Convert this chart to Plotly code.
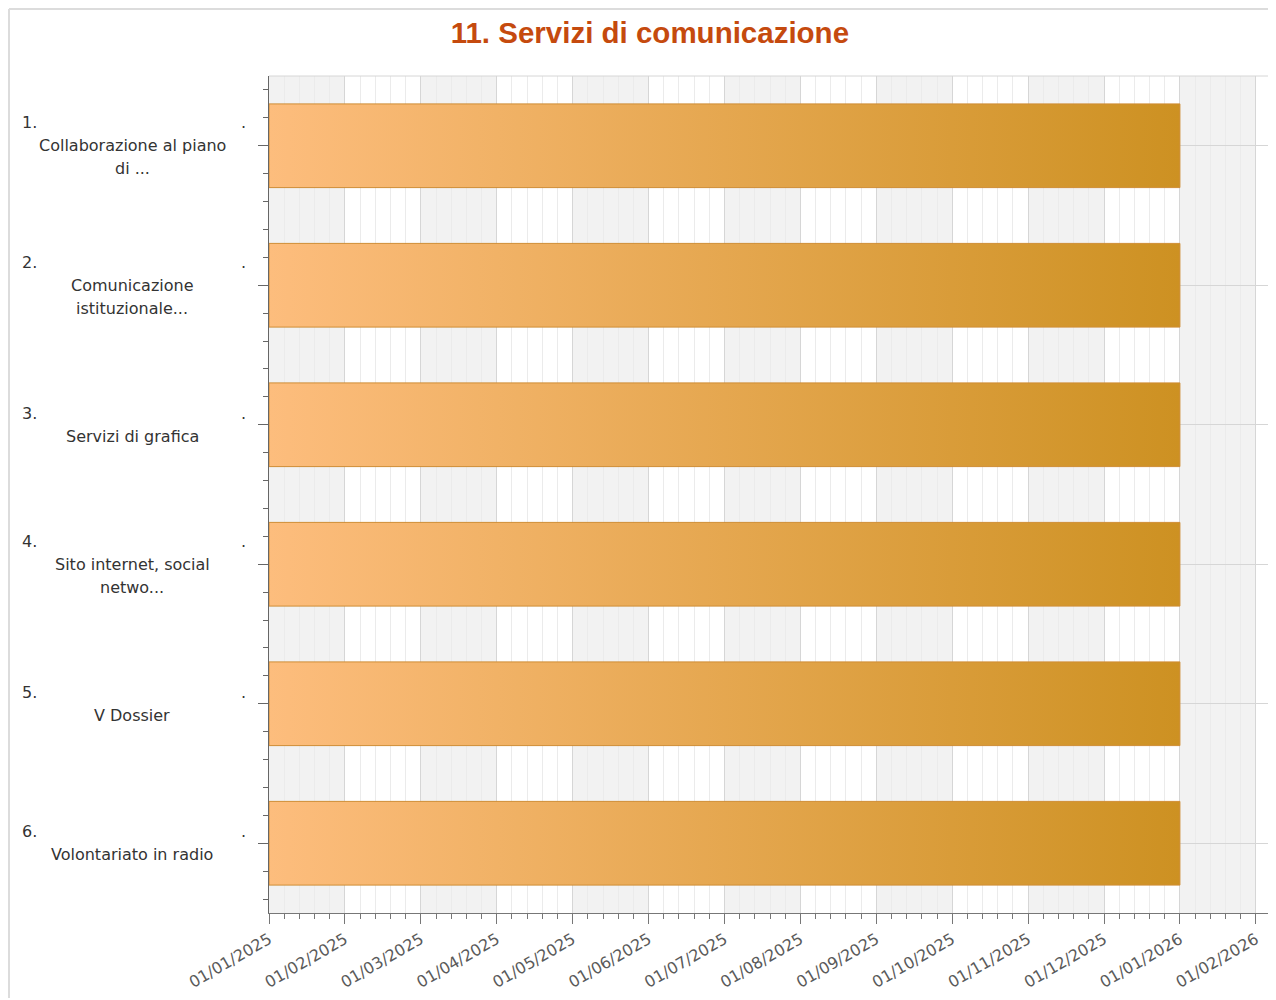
import calendar
import plotly.graph_objects as go

# ---------------- data ----------------
task_numbers = ["1.", "2.", "3.", "4.", "5.", "6."]
task_label_lines = [
    ["Collaborazione al piano", "di ..."],
    ["Comunicazione", "istituzionale..."],
    ["Servizi di grafica"],
    ["Sito internet, social", "netwo..."],
    ["V Dossier"],
    ["Volontariato in radio"],
]
task_starts = ["01/01/2025", "01/01/2025", "01/01/2025", "01/01/2025", "01/01/2025", "01/01/2025"]
task_ends = ["01/01/2026", "01/01/2026", "01/01/2026", "01/01/2026", "01/01/2026", "01/01/2026"]
x_tick_labels = [
    "01/01/2025", "01/02/2025", "01/03/2025", "01/04/2025", "01/05/2025", "01/06/2025",
    "01/07/2025", "01/08/2025", "01/09/2025", "01/10/2025", "01/11/2025", "01/12/2025",
    "01/01/2026", "01/02/2026",
]
title_text = "11. Servizi di comunicazione"

# ---------------- layout constants ----------------
FIG_W, FIG_H = 1266, 990
M_L, M_R, M_T, M_B = 261, 3, 68, 85
PLOT_W = FIG_W - M_L - M_R
PLOT_H = FIG_H - M_T - M_B
BASE_YEAR = 2025
X_MAX = 13.2
BAR_HALF = 0.3
LINE_H = 23
FONT = "DejaVu Sans"
LABEL_SIZE = 16


def month_pos(s):
    d, m, y = map(int, s.split("/"))
    return (y - BASE_YEAR) * 12 + (m - 1) + (d - 1) / calendar.monthrange(y, m)[1]


def px_x(px):
    return (px - M_L) / PLOT_W


fig = go.Figure()

# gradient bars
for i, (s, e) in enumerate(zip(task_starts, task_ends)):
    x0, x1 = month_pos(s), month_pos(e)
    fig.add_trace(go.Scatter(
        x=[x0, x1, x1, x0, x0],
        y=[i - BAR_HALF, i - BAR_HALF, i + BAR_HALF, i + BAR_HALF, i - BAR_HALF],
        mode="lines",
        fill="toself",
        fillgradient=dict(type="horizontal",
                          colorscale=[[0, "#fdbd7d"], [1, "#cd9122"]]),
        line=dict(color="#cf8d34", width=1),
        showlegend=False,
        hoverinfo="skip",
    ))

shapes = []
# alternating month bands
for k in range(len(x_tick_labels)):
    if k % 2 == 0:
        shapes.append(dict(type="rect", xref="x", yref="paper",
                           x0=k, x1=min(k + 1, X_MAX), y0=0, y1=1,
                           fillcolor="#f2f2f2", line=dict(width=0), layer="below"))
# plot border top / right (light)
shapes.append(dict(type="line", xref="paper", yref="paper", x0=0, x1=1, y0=1, y1=1,
                   line=dict(color="#d6d6d6", width=1)))
shapes.append(dict(type="line", xref="paper", yref="paper", x0=1, x1=1, y0=0, y1=1,
                   line=dict(color="#d6d6d6", width=1)))
# outer frame (left / top)
fx0 = -M_L / PLOT_W
fy1 = 1 + M_T / PLOT_H
fy0 = -M_B / PLOT_H
fx1 = 1 + M_R / PLOT_W
shapes.append(dict(type="line", xref="paper", yref="paper", x0=fx0 + 1 / PLOT_W, x1=fx1,
                   y0=fy1 - 1 / PLOT_H, y1=fy1 - 1 / PLOT_H,
                   line=dict(color="#dcdcdc", width=2)))
shapes.append(dict(type="line", xref="paper", yref="paper", x0=fx0 + 1 / PLOT_W, x1=fx0 + 1 / PLOT_W,
                   y0=fy0, y1=fy1 - 1 / PLOT_H,
                   line=dict(color="#dcdcdc", width=2)))

# y labels as annotations
annotations = []
for i, (num, lines) in enumerate(zip(task_numbers, task_label_lines)):
    n_total = len(lines) + 1
    first_offset = (n_total - 1) / 2 * LINE_H
    annotations.append(dict(x=px_x(12), y=i, xref="paper", yref="y", text=num,
                            showarrow=False, xanchor="left", yanchor="middle",
                            yshift=first_offset,
                            font=dict(family=FONT, size=LABEL_SIZE, color="#333333")))
    annotations.append(dict(x=px_x(235), y=i, xref="paper", yref="y", text=".",
                            showarrow=False, xanchor="center", yanchor="middle",
                            yshift=first_offset,
                            font=dict(family=FONT, size=LABEL_SIZE, color="#333333")))
    for k, line in enumerate(lines, start=1):
        annotations.append(dict(x=px_x(124), y=i, xref="paper", yref="y", text=line,
                                showarrow=False, xanchor="center", yanchor="middle",
                                yshift=first_offset - k * LINE_H,
                                font=dict(family=FONT, size=LABEL_SIZE, color="#333333")))

fig.update_layout(
    width=FIG_W, height=FIG_H,
    margin=dict(l=M_L, r=M_R, t=M_T, b=M_B, pad=0),
    paper_bgcolor="white", plot_bgcolor="white",
    title=dict(text=title_text, xref="container", x=0.507, xanchor="center",
               yref="container", y=1 - 25 / FIG_H, yanchor="middle",
               font=dict(family="Liberation Sans", size=29.5, color="#c54a0e", weight="bold")),
    shapes=shapes,
    annotations=annotations,
    showlegend=False,
)

fig.update_xaxes(
    type="linear", range=[0, X_MAX],
    tickmode="array", tickvals=list(range(len(x_tick_labels))), ticktext=x_tick_labels,
    tickangle=-30,
    tickfont=dict(family=FONT, size=16, color="#5a5a5a"),
    ticks="outside", ticklen=10, tickcolor="#777777", tickwidth=1,
    showline=True, linecolor="#777777", linewidth=1,
    showgrid=True, gridcolor="#d6d6d6", gridwidth=1,
    zeroline=False,
    minor=dict(tickmode="linear", tick0=0, dtick=0.2, ticks="outside", ticklen=5,
               tickcolor="#777777", showgrid=True, gridcolor="#ebebeb", gridwidth=1),
)

fig.update_yaxes(
    type="linear", range=[len(task_numbers) - 0.5, -0.5],
    tickmode="linear", tick0=0, dtick=1, showticklabels=False,
    ticks="outside", ticklen=10, tickcolor="#666666", tickwidth=1,
    showline=True, linecolor="#666666", linewidth=1,
    showgrid=True, gridcolor="#d6d6d6", gridwidth=1,
    zeroline=False,
    minor=dict(tickmode="linear", tick0=0, dtick=0.2, ticks="outside", ticklen=5,
               tickcolor="#666666", showgrid=False),
)

fig.write_html("out.html")
